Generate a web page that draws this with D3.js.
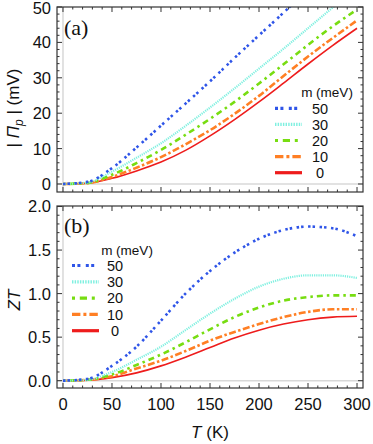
<!DOCTYPE html>
<html><head><meta charset="utf-8">
<script src="https://cdn.jsdelivr.net/npm/d3@7"></script>
<style>body{margin:0;background:#fff}svg{display:block}</style>
</head><body>
<svg id="c" width="373" height="444"></svg>
<script>
const temps = [0,25,50,75,100,125,150,175,200,225,250,275,300];
const masses = [50,30,20,10,0];
const piValues = {
  50:[0,0.6,4.5,10.3,16.5,22.7,29.0,35.6,42.0,48.4,55,61.5,68],
  30:[0,0.4,3.5,7.4,11.5,16.4,21.6,27.0,32.6,38.2,44.0,49.8,55.5],
  20:[0,0.3,2.6,5.9,9.6,13.9,18.4,23.2,28.4,33.8,39.3,44.5,49.3],
  10:[0,0.25,2.0,4.6,7.6,11.2,15.2,19.8,24.9,30.5,36.0,41.2,46.2],
  0:[0,0.2,1.6,3.7,6.2,9.5,13.6,18.2,23.2,28.5,33.9,39.1,44.0]
};
const ztValues = {
  50:[0,0.02,0.17,0.39,0.69,1.0,1.26,1.47,1.63,1.73,1.77,1.75,1.66],
  30:[0,0.01,0.1,0.24,0.39,0.58,0.77,0.94,1.08,1.17,1.21,1.21,1.18],
  20:[0,0.01,0.07,0.18,0.3,0.44,0.59,0.73,0.84,0.92,0.96,0.98,0.98],
  10:[0,0.01,0.05,0.14,0.23,0.34,0.46,0.56,0.65,0.73,0.79,0.82,0.82],
  0:[0,0.005,0.035,0.09,0.17,0.27,0.38,0.49,0.58,0.65,0.70,0.73,0.74]
};
const xTicks = [0,50,100,150,200,250,300];
const piTicks = [0,10,20,30,40,50];
const ztTicks = [0,0.5,1.0,1.5,2.0];
const ztTickLabels = ["0.0","0.5","1.0","1.5","2.0"];

const styles = {
  50:{color:"#2f55e8", dash:"2.5,2,2.5,4.5", w:2.6},
  30:{color:"#7ff0e0", dash:"1.2,1", w:2.2},
  20:{color:"#77dd11", dash:"2.5,4,6,4", w:2.6},
  10:{color:"#ff7f24", dash:"7,2.5,2.5,2.5", w:2.6},
  0:{color:"#ee1c1c", dash:null, w:1.6}
};

const svg = d3.select("#c");
const font = "'Liberation Sans', Arial, sans-serif";
const frameColor = "#333";
const textColor = "#111";

const x = d3.scaleLinear().domain([-6.1,306.1]).range([57,363]);
const yTop = d3.scaleLinear().domain([-2.26,50.0]).range([192,7]);
const yBot = d3.scaleLinear().domain([-0.084,2.006]).range([388,206]);

svg.append("clipPath").attr("id","clipTop").append("rect")
  .attr("x",57).attr("y",7).attr("width",306).attr("height",185);
svg.append("clipPath").attr("id","clipBot").append("rect")
  .attr("x",57).attr("y",206).attr("width",306).attr("height",182);

function panel(y, clipId, values, yMaj, yMinStep, yLabels, legend, label, labelY){
  const [y0,y1] = y.range();
  const x0 = 57, x1 = 363;
  const g = svg.append("g");
  g.append("line").attr("x1",x0).attr("x2",x1).attr("y1",y(0)).attr("y2",y(0))
    .attr("stroke","#d8d8d8").attr("stroke-width",1.5);
  g.append("line").attr("x1",x(0)).attr("x2",x(0)).attr("y1",y1).attr("y2",y0)
    .attr("stroke","#d8d8d8").attr("stroke-width",1.5);
  const line = d3.line().x((d,i)=>x(temps[i])).y(d=>y(d)).curve(d3.curveMonotoneX);
  const cg = g.append("g").attr("clip-path",`url(#${clipId})`);
  masses.slice().reverse().forEach(m=>{
    const s = styles[m];
    cg.append("path").datum(values[m]).attr("d",line).attr("fill","none")
      .attr("stroke",s.color).attr("stroke-width",s.w)
      .attr("stroke-dasharray",s.dash);
  });
  g.append("rect").attr("x",x0).attr("y",y1).attr("width",x1-x0).attr("height",y0-y1)
    .attr("fill","none").attr("stroke",frameColor).attr("stroke-width",1.2);
  d3.range(0,301,10).forEach(t=>{
    const L = t%50===0 ? 5 : 2.5;
    g.append("line").attr("x1",x(t)).attr("x2",x(t)).attr("y1",y0).attr("y2",y0-L).attr("stroke",frameColor).attr("stroke-width",1);
    g.append("line").attr("x1",x(t)).attr("x2",x(t)).attr("y1",y1).attr("y2",y1+L).attr("stroke",frameColor).attr("stroke-width",1);
  });
  const dom = y.domain();
  d3.range(0, dom[1]+1e-9, yMinStep).forEach(v=>{
    const isMaj = yMaj.some(t=>Math.abs(t-v)<1e-6);
    const L = isMaj ? 5 : 2.5;
    g.append("line").attr("x1",x0).attr("x2",x0+L).attr("y1",y(v)).attr("y2",y(v)).attr("stroke",frameColor).attr("stroke-width",1);
    g.append("line").attr("x1",x1).attr("x2",x1-L).attr("y1",y(v)).attr("y2",y(v)).attr("stroke",frameColor).attr("stroke-width",1);
  });
  yMaj.forEach((v,i)=>{
    g.append("text").attr("x",51).attr("y",Math.max(y(v),8.5)).attr("dy","0.36em")
      .attr("text-anchor","end").attr("font-family",font).attr("font-size",16.5)
      .attr("fill",textColor).text(yLabels[i]);
  });
  g.append("text").attr("x",64).attr("y",labelY).attr("font-family","'Liberation Serif', 'Times New Roman', serif")
    .attr("font-size",22).attr("fill",textColor).text(label);
  const lg = g.append("g");
  lg.append("text").attr("x",legend.titleX).attr("y",legend.titleY).attr("dy","0.36em")
    .attr("text-anchor","middle").attr("font-family",font).attr("font-size",13.5).attr("fill",textColor).text("m (meV)");
  masses.forEach((m,i)=>{
    const yy = legend.y0 + i*legend.dy;
    const s = styles[m];
    lg.append("line").attr("x1",legend.lx0).attr("x2",legend.lx1).attr("y1",yy).attr("y2",yy)
      .attr("stroke",s.color).attr("stroke-width",3.2).attr("stroke-dasharray",s.dash ? s.dash.split(",").map(v=>+v*1.2).join(",") : null);
    lg.append("text").attr("x",legend.tx).attr("y",yy).attr("dy","0.36em").attr("text-anchor","middle")
      .attr("font-family",font).attr("font-size",14.5).attr("fill",textColor).text(m);
  });
}

panel(yTop,"clipTop",piValues,piTicks,2,piTicks.map(String),
  {titleX:327,titleY:92.5,y0:108.3,dy:16.1,lx0:275,lx1:302,tx:320},"(a)",35);
panel(yBot,"clipBot",ztValues,ztTicks,0.1,ztTickLabels,
  {titleX:127,titleY:250,y0:265.5,dy:16.3,lx0:72,lx1:99,tx:115},"(b)",233);

xTicks.forEach(t=>{
  svg.append("text").attr("x",x(t)).attr("y",410).attr("text-anchor","middle")
    .attr("font-family",font).attr("font-size",16.5).attr("fill",textColor).text(t);
});
const xt = svg.append("text").attr("x",210).attr("y",438).attr("text-anchor","middle")
  .attr("font-family",font).attr("font-size",17).attr("fill",textColor);
xt.append("tspan").attr("font-style","italic").text("T");
xt.append("tspan").text(" (K)");

const yt1 = svg.append("text").attr("transform","translate(19,108) rotate(-90)").attr("text-anchor","middle")
  .attr("font-family",font).attr("font-size",17).attr("fill",textColor);
yt1.append("tspan").text("| ");
yt1.append("tspan").attr("font-style","italic").text("Π");
yt1.append("tspan").attr("font-style","italic").attr("font-size",12).attr("dy",4).text("p");
yt1.append("tspan").attr("dy",-4).text(" |  (mV)");

svg.append("text").attr("transform","translate(20,300) rotate(-90)").attr("text-anchor","middle")
  .attr("font-family",font).attr("font-size",17).attr("font-style","italic").attr("fill",textColor).text("ZT");
</script>
</body></html>
